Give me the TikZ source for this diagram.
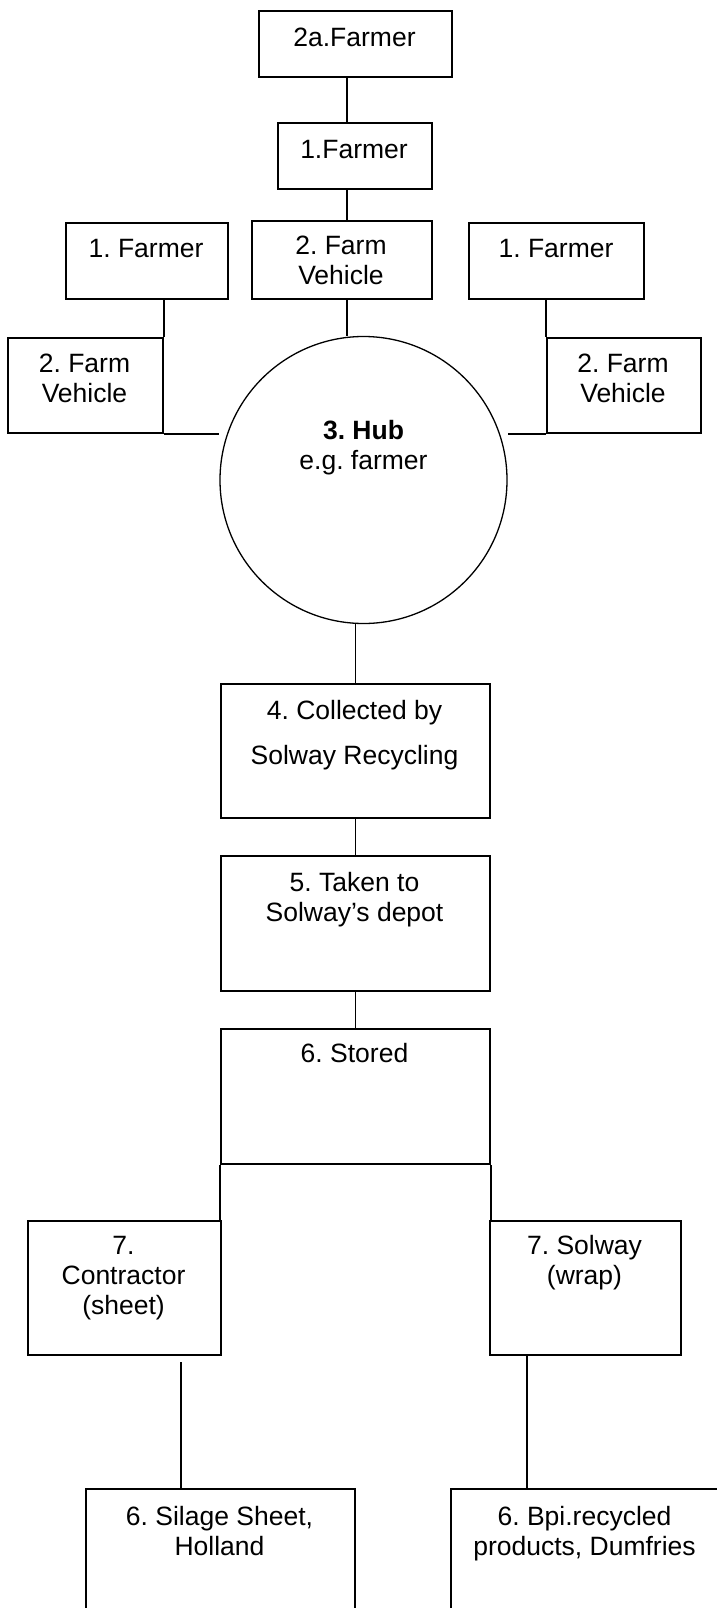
\documentclass[tikz,border=0pt]{standalone}
\usepackage{fontspec}
\setmainfont{Liberation Sans}
\frenchspacing
\begin{document}
\begin{tikzpicture}[x=1pt,y=-1pt,line width=1.3pt,font=\fontsize{26.5}{30}\selectfont,
  box/.style={draw,line width=2pt,anchor=north west,inner sep=0pt},
  txt/.style={align=center,anchor=base,inner sep=0pt}]
  \path[use as bounding box,fill=white] (0,0) rectangle (716,1608);
  \coordinate (spine) at (347,0);
  \coordinate (cdrop) at (181,1362);
  \coordinate (sdrop) at (527,0);
  % farmers and vehicles
  \node[box,minimum width=193pt,minimum height=66pt] (f2a) at (258,10) {};
  \node[box,minimum width=154pt,minimum height=66pt] (f1) at (277,122) {};
  \node[box,minimum width=180pt,minimum height=78pt] (fv) at (251,220) {};
  \node[box,minimum width=162pt,minimum height=76pt] (lf) at (65,222) {};
  \node[box,minimum width=175pt,minimum height=76pt] (rf) at (468,222) {};
  \node[box,minimum width=155pt,minimum height=95pt] (lv) at (7,337) {};
  \node[box,minimum width=154pt,minimum height=95pt] (rv) at (546,337) {};
  \node[circle,draw,inner sep=0pt,minimum size=287pt] (hub) at (363.5,480) {};
  % solway chain
  \node[box,minimum width=269pt,minimum height=134pt] (col) at (220,683) {};
  \node[box,minimum width=269pt,minimum height=135pt] (dep) at (220,855) {};
  \node[box,minimum width=269pt,minimum height=135pt] (sto) at (220,1028) {};
  \node[box,minimum width=193pt,minimum height=134pt] (con) at (27,1220) {};
  \node[box,minimum width=191pt,minimum height=134pt] (sol) at (489,1220) {};
  \node[box,minimum width=269pt,minimum height=140pt] (sil) at (85,1488) {};
  \node[box,minimum width=270pt,minimum height=140pt] (bpi) at (450,1488) {};
  % links
  \draw (f2a.south -| spine) -- (f1.north -| spine);
  \draw (f1.south -| spine) -- (fv.north -| spine);
  \draw (fv.south -| spine) -- (spine |- hub.north);
  \draw (lf.south -| lv.east) -- (lv.north east);
  \draw (rf.south -| rv.west) -- (rv.north west);
  \draw (lv.south east) -- (lv.south east -| hub.west);
  \draw (rv.south west) -- (rv.south west -| hub.east);
  \draw (col.north |- hub.south) -- (col.north);
  \draw (col.south) -- (dep.north);
  \draw (dep.south) -- (sto.north);
  \draw[line width=2pt] (sto.south west) -- (sto.south west |- con.north);
  \draw[line width=2pt] (sto.south east) -- (sto.south east |- sol.north);
  \draw (cdrop) -- (cdrop |- sil.north);
  \draw (sol.south -| sdrop) -- (bpi.north -| sdrop);
  % texts (base = last line)
  \node[txt] (t2a) at (354.5,47) {2a.Farmer};
  \node[txt] (t1) at (354,159) {1.Farmer};
  \node[txt] (tfv) at (341,284) {2. Farm\\Vehicle};
  \node[txt] (tlf) at (146,257) {1. Farmer};
  \node[txt] (trf) at (556,257) {1. Farmer};
  \node[txt] (tlv) at (84.5,402) {2. Farm\\Vehicle};
  \node[txt] (trv) at (623,402) {2. Farm\\Vehicle};
  \node[txt] (thub) at (363.5,469) {\textbf{3. Hub}\\e.g. farmer};
  \node[txt] (tcol) at (354.5,764) {4. Collected by\\[15pt]Solway Recycling};
  \node[txt] (tdep) at (354.5,921) {5. Taken to\\Solway’s depot};
  \node[txt] (tsto) at (354.5,1062) {6. Stored};
  \node[txt] (tcon) at (123.5,1314) {7.\\Contractor\\(sheet)};
  \node[txt] (tsol) at (584.5,1284) {7. Solway\\(wrap)};
  \node[txt] (tsil) at (219.5,1555) {6. Silage Sheet,\\Holland};
  \node[txt] (tbpi) at (584.5,1555) {6. Bpi.recycled\\products, Dumfries};
\end{tikzpicture}
\end{document}
